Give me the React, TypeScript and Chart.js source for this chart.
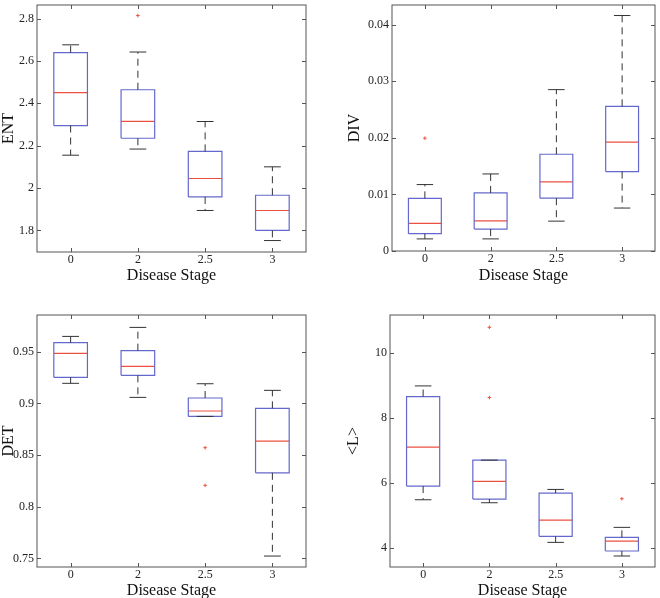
import React, { useEffect, useRef } from 'react';
import { Chart, registerables } from 'chart.js';

Chart.register(...registerables);

const FONT = "'Liberation Serif', 'Times New Roman', Times, serif";

// Shared categories (disease stage)
const categories = ['0', '2', '2.5', '3'];

// ENT
const entLow = [2.155, 2.184, 1.894, 1.752];
const entQ1 = [2.295, 2.235, 1.958, 1.8];
const entMed = [2.45, 2.315, 2.045, 1.894];
const entQ3 = [2.639, 2.464, 2.173, 1.966];
const entHigh = [2.676, 2.642, 2.314, 2.1];
const entOutCat = [1];
const entOutVal = [2.814];
const entTicks = [1.8, 2, 2.2, 2.4, 2.6, 2.8];

// DIV
const divLow = [0.00214, 0.00214, 0.00528, 0.00759];
const divQ1 = [0.00307, 0.00388, 0.00933, 0.01403];
const divMed = [0.00487, 0.00533, 0.01223, 0.01925];
const divQ3 = [0.0093, 0.01026, 0.0171, 0.02557];
const divHigh = [0.01174, 0.01362, 0.02852, 0.04162];
const divOutCat = [0];
const divOutVal = [0.01994];
const divTicks = [0, 0.01, 0.02, 0.03, 0.04];

// DET
const detLow = [0.9194, 0.9058, 0.8874, 0.7523];
const detQ1 = [0.9252, 0.9271, 0.8874, 0.8328];
const detMed = [0.9484, 0.9358, 0.8926, 0.8634];
const detQ3 = [0.9587, 0.951, 0.9052, 0.8952];
const detHigh = [0.9648, 0.9735, 0.919, 0.9126];
const detOutCat = [2, 2];
const detOutVal = [0.8571, 0.8207];
const detTicks = [0.75, 0.8, 0.85, 0.9, 0.95];

// <L>
const lLow = [5.487, 5.395, 4.174, 3.754];
const lQ1 = [5.908, 5.508, 4.359, 3.908];
const lMed = [7.108, 6.051, 4.862, 4.215];
const lQ3 = [8.667, 6.708, 5.692, 4.328];
const lHigh = [8.995, 6.708, 5.805, 4.636];
const lOutCat = [1, 1, 3];
const lOutVal = [10.8, 8.636, 5.518];
const lTicks = [4, 6, 8, 10];

const BOX_COLOR = '#6468cc';
const MED_COLOR = '#ee5040';
const WHISKER_COLOR = '#333333';
const FRAME_COLOR = '#555555';

function buildDatasets(low: number[], q1: number[], med: number[], q3: number[], high: number[], outCat: number[], outVal: number[]) {
  const whisk: any[] = [];
  const caps: any[] = [];
  const box: any[] = [];
  const meds: any[] = [];
  const BW = 0.25;
  const CW = 0.125;
  for (let i = 0; i < low.length; i++) {
    const x = i + 1;
    whisk.push({ x, y: q3[i] }, { x, y: high[i] }, { x, y: null }, { x, y: q1[i] }, { x, y: low[i] }, { x, y: null });
    caps.push({ x: x - CW, y: high[i] }, { x: x + CW, y: high[i] }, { x, y: null }, { x: x - CW, y: low[i] }, { x: x + CW, y: low[i] }, { x, y: null });
    box.push(
      { x: x - BW, y: q1[i] }, { x: x + BW, y: q1[i] }, { x: x + BW, y: q3[i] },
      { x: x - BW, y: q3[i] }, { x: x - BW, y: q1[i] }, { x, y: null }
    );
    meds.push({ x: x - BW, y: med[i] }, { x: x + BW, y: med[i] }, { x, y: null });
  }
  const outs = outCat.map((c, k) => ({ x: c + 1, y: outVal[k] }));
  const line = { pointRadius: 0, fill: false, tension: 0, spanGaps: false };
  return [
    { ...line, data: whisk, borderColor: WHISKER_COLOR, borderWidth: 1, borderDash: [7, 5] },
    { ...line, data: caps, borderColor: WHISKER_COLOR, borderWidth: 1 },
    { ...line, data: box, borderColor: BOX_COLOR, borderWidth: 1.2 },
    { ...line, data: meds, borderColor: MED_COLOR, borderWidth: 1.2 },
    {
      data: outs, showLine: false, pointStyle: 'cross', pointRadius: 1.8,
      pointBorderColor: MED_COLOR, pointBorderWidth: 1, borderColor: MED_COLOR,
    },
  ];
}

const framePlugin = {
  id: 'frameTicks',
  afterDraw(chart: any) {
    const { ctx, chartArea } = chart;
    const { left, right, top, bottom } = chartArea;
    ctx.save();
    ctx.strokeStyle = FRAME_COLOR;
    ctx.lineWidth = 1;
    ctx.strokeRect(left, top, right - left, bottom - top);
    const TL = 4;
    const xs = chart.scales.x;
    xs.ticks.forEach((_t: any, i: number) => {
      const px = Math.round(xs.getPixelForTick(i)) + 0.5;
      ctx.beginPath();
      ctx.moveTo(px, bottom); ctx.lineTo(px, bottom - TL);
      ctx.moveTo(px, top); ctx.lineTo(px, top + TL);
      ctx.stroke();
    });
    const ys = chart.scales.y;
    ys.ticks.forEach((_t: any, i: number) => {
      const py = Math.round(ys.getPixelForTick(i)) + 0.5;
      ctx.beginPath();
      ctx.moveTo(left, py); ctx.lineTo(left + TL, py);
      ctx.moveTo(right, py); ctx.lineTo(right - TL, py);
      ctx.stroke();
    });
    ctx.restore();
  },
};

type PanelCfg = {
  left: number; top: number; w: number; h: number;
  yAxisW: number; xAxisH: number; padRight: number; padTop: number;
  yTitlePad: number; xTitlePad: number;
  label: string; min: number; max: number; ticks: number[];
  data: any[];
};

const panels: PanelCfg[] = [
  {
    left: 0, top: 0, w: 330, h: 290, yAxisW: 37, xAxisH: 38, padRight: 24, padTop: 1,
    yTitlePad: -0.6, xTitlePad: 4.4, label: 'ENT', min: 1.698, max: 2.864, ticks: entTicks,
    data: buildDatasets(entLow, entQ1, entMed, entQ3, entHigh, entOutCat, entOutVal),
  },
  {
    left: 330, top: 0, w: 330, h: 290, yAxisW: 62, xAxisH: 39, padRight: 5, padTop: 1,
    yTitlePad: 15.4, xTitlePad: 4.9, label: 'DIV', min: 0, max: 0.04348, ticks: divTicks,
    data: buildDatasets(divLow, divQ1, divMed, divQ3, divHigh, divOutCat, divOutVal),
  },
  {
    left: 0, top: 300, w: 330, h: 298, yAxisW: 37, xAxisH: 31, padRight: 24, padTop: 15,
    yTitlePad: -0.6, xTitlePad: -2.8, label: 'DET', min: 0.7417, max: 0.9855, ticks: detTicks,
    data: buildDatasets(detLow, detQ1, detMed, detQ3, detHigh, detOutCat, detOutVal),
  },
  {
    left: 330, top: 300, w: 330, h: 298, yAxisW: 60, xAxisH: 31, padRight: 5, padTop: 15,
    yTitlePad: 14.4, xTitlePad: -2.8, label: '<L>', min: 3.415, max: 11.18, ticks: lTicks,
    data: buildDatasets(lLow, lQ1, lMed, lQ3, lHigh, lOutCat, lOutVal),
  },
];

function Panel({ cfg }: { cfg: PanelCfg }) {
  const ref = useRef<HTMLCanvasElement | null>(null);
  useEffect(() => {
    if (!ref.current) return;
    const chart = new Chart(ref.current, {
      type: 'line',
      data: { datasets: cfg.data },
      options: {
        animation: false,
        responsive: false,
        maintainAspectRatio: false,
        devicePixelRatio: 1,
        events: [],
        layout: { padding: { left: 0, right: cfg.padRight, top: cfg.padTop, bottom: 0 } },
        plugins: { legend: { display: false }, tooltip: { enabled: false } },
        scales: {
          x: {
            type: 'linear',
            min: 0.5,
            max: 4.5,
            grid: { display: false, drawTicks: false },
            border: { display: false },
            afterBuildTicks: (s: any) => {
              s.ticks = categories.map((_c, i) => ({ value: i + 1 }));
            },
            ticks: {
              callback: (v: any) => categories[Math.round(Number(v)) - 1] ?? '',
              font: { family: FONT, size: 12 },
              color: '#222',
              padding: 1,
              maxRotation: 0,
              autoSkip: false,
            },
            title: {
              display: true,
              text: 'Disease Stage',
              font: { family: FONT, size: 16 },
              color: '#111',
              padding: { top: 0, bottom: cfg.xTitlePad },
            },
            afterFit: (s: any) => {
              s.height = cfg.xAxisH;
              s.paddingLeft = 0;
              s.paddingRight = 0;
            },
          },
          y: {
            type: 'linear',
            min: cfg.min,
            max: cfg.max,
            grid: { display: false, drawTicks: false },
            border: { display: false },
            afterBuildTicks: (s: any) => {
              s.ticks = cfg.ticks.map((v) => ({ value: v }));
            },
            ticks: {
              callback: (v: any) => String(v),
              font: { family: FONT, size: 12 },
              color: '#222',
              padding: 3,
              autoSkip: false,
            },
            title: {
              display: true,
              text: cfg.label,
              font: { family: FONT, size: 16 },
              color: '#111',
              padding: { top: cfg.yTitlePad, bottom: 0 },
            },
            afterFit: (s: any) => {
              s.width = cfg.yAxisW;
              s.paddingTop = 0;
              s.paddingBottom = 0;
            },
          },
        },
      } as any,
      plugins: [framePlugin],
    });
    return () => chart.destroy();
  }, [cfg]);
  return (
    <canvas
      ref={ref}
      width={cfg.w}
      height={cfg.h}
      style={{ position: 'absolute', left: cfg.left, top: cfg.top, width: cfg.w, height: cfg.h }}
    />
  );
}

export default function App() {
  return (
    <div style={{ position: 'fixed', left: 0, top: 0, width: 660, height: 598, background: '#fff', overflow: 'hidden' }}>
      {panels.map((p, i) => (
        <Panel key={i} cfg={p} />
      ))}
    </div>
  );
}
